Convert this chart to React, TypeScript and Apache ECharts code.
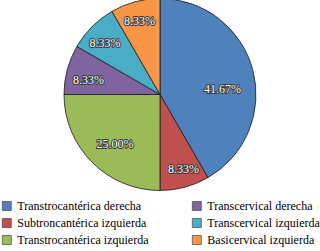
import React, { useEffect, useRef } from "react";
import * as echarts from "echarts";

const categories = [
  "Transtrocantérica derecha",
  "Subtroncantérica izquierda",
  "Transtrocantérica izquierda",
  "Transcervical derecha",
  "Transcervical izquierda",
  "Basicervical izquierda",
];
const values = [41.67, 8.33, 25.0, 8.33, 8.33, 8.33];
const colors = ["#4F81BD", "#C0504D", "#9BBB59", "#8064A2", "#4BACC6", "#F79646"];
const leftLegend = [categories[0], categories[1], categories[2]];
const rightLegend = [categories[3], categories[4], categories[5]];
const labelOffsets: number[][] = [[-10, 14], [4, 2], [8, -4], [1, 5], [-2, 2], [-1, -1]];

export default function App() {
  const ref = useRef<HTMLDivElement>(null);
  useEffect(() => {
    if (!ref.current) return;
    const chart = echarts.init(ref.current, undefined, { renderer: "svg" });
    const font = "Liberation Serif";
    const legendBase = {
      orient: "vertical" as const,
      icon: "rect",
      itemWidth: 9,
      itemHeight: 9,
      itemGap: 5,
      top: 200,
      height: 70,
      padding: 0,
      textStyle: { fontFamily: font, fontSize: 12, color: "#000", padding: [0, 0, 0, 1] },
      itemStyle: { borderColor: "#333", borderWidth: 0.6 },
    };
    chart.setOption({
      animation: false,
      color: colors,
      textStyle: { fontFamily: font },
      legend: [
        { ...legendBase, left: 2, data: leftLegend },
        { ...legendBase, left: 192, data: rightLegend },
      ],
      series: [
        {
          type: "pie",
          center: [160, 94.5],
          radius: [0, 96],
          startAngle: 90,
          clockwise: true,
          silent: true,
          label: { show: false },
          labelLine: { show: false },
          itemStyle: { borderColor: "#1a1a1a", borderWidth: 0.8 },
          data: categories.map((name, i) => ({ name, value: values[i] })),
        },
        {
          type: "pie",
          center: [160, 94.5],
          radius: [48, 96],
          startAngle: 90,
          clockwise: true,
          silent: true,
          legendHoverLink: false,
          itemStyle: { color: "transparent", borderWidth: 0 },
          label: {
            show: true,
            position: "inside",
            formatter: (p: any) => p.value.toFixed(2) + "%",
            fontFamily: font,
            fontSize: 12,
            color: "#fff",
            textBorderColor: "#3a3a3a",
            textBorderWidth: 2,
          },
          labelLine: { show: false },
          data: categories.map((name, i) => ({
            name: name + " ",
            value: values[i],
            label: { offset: labelOffsets[i] },
          })),
        },
      ],
    });
    return () => chart.dispose();
  }, []);
  return (
    <div
      ref={ref}
      style={{ position: "absolute", left: 0, top: 0, width: 320, height: 251, background: "#fff" }}
    />
  );
}
